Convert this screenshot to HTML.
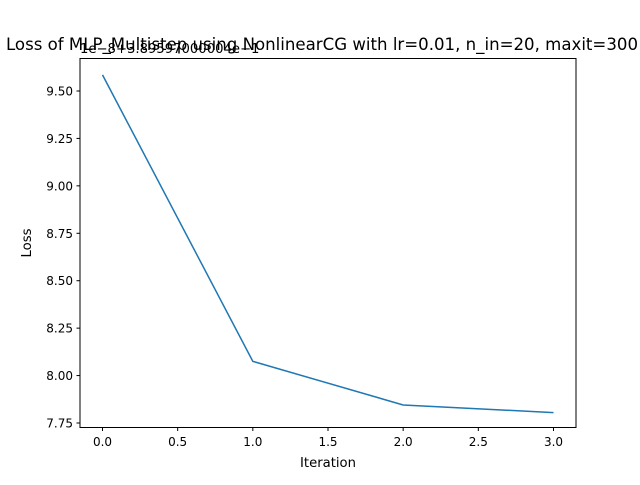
<!DOCTYPE html>
<html><head><meta charset="utf-8"><style>
body{margin:0;background:#fff}
svg text{font-family:"DejaVu Sans","Liberation Sans",sans-serif;fill:#000}
</style></head><body>
<svg width="640" height="480" xmlns="http://www.w3.org/2000/svg">
<rect width="640" height="480" fill="#fff"/>
<text x="322" y="50" font-size="16.6" text-anchor="middle">Loss of MLP_Multistep using NonlinearCG with lr=0.01, n_in=20, maxit=300</text>
<text x="80" y="53" font-size="13.2">1e−8+3.89597000004e−1</text>
<g id="plot"></g>
<rect x="80" y="58.5" width="496" height="369" fill="none" stroke="#000" stroke-width="1"/>
<text x="328" y="467" font-size="13.2" text-anchor="middle">Iteration</text>
<text transform="translate(31,243) rotate(-90)" font-size="13.2" text-anchor="middle">Loss</text>
</svg>
<script>
const iterations=[0,1,2,3];
const lossValues=[9.585,8.075,7.845,7.805];
const xTicks=[0,0.5,1,1.5,2,2.5,3];
const xTickLabels=["0.0","0.5","1.0","1.5","2.0","2.5","3.0"];
const yTicks=[7.75,8.0,8.25,8.5,8.75,9.0,9.25,9.5];
const yTickLabels=["7.75","8.00","8.25","8.50","8.75","9.00","9.25","9.50"];
const NS="http://www.w3.org/2000/svg";
const X=v=>102.5+v*150.33;
const Y=v=>423-(v-7.75)/0.25*47.43;
const g=document.getElementById('plot');
function mk(t,a){const e=document.createElementNS(NS,t);for(const k in a)e.setAttribute(k,a[k]);g.appendChild(e);return e;}
xTicks.forEach((v,i)=>{
 const l=mk('line',{x1:X(v),x2:X(v),y1:427.5,y2:431,stroke:'#000'});
 
 
 const t=mk('text',{x:X(v),y:446,'font-size':12,'text-anchor':'middle'});t.textContent=xTickLabels[i];
 
 
});
yTicks.forEach((v,i)=>{
 const l=mk('line',{x1:76.5,x2:80,y1:Y(v),y2:Y(v),stroke:'#000'});
 
 
 const t=mk('text',{x:73,y:Y(v)+4.5,'font-size':12,'text-anchor':'end'});t.textContent=yTickLabels[i];
 
 
});
const p=mk('polyline',{points:iterations.map((v,i)=>X(v)+','+Y(lossValues[i])).join(' '),fill:'none',stroke:'#1f77b4','stroke-width':1.5});


</script>
</body></html>
